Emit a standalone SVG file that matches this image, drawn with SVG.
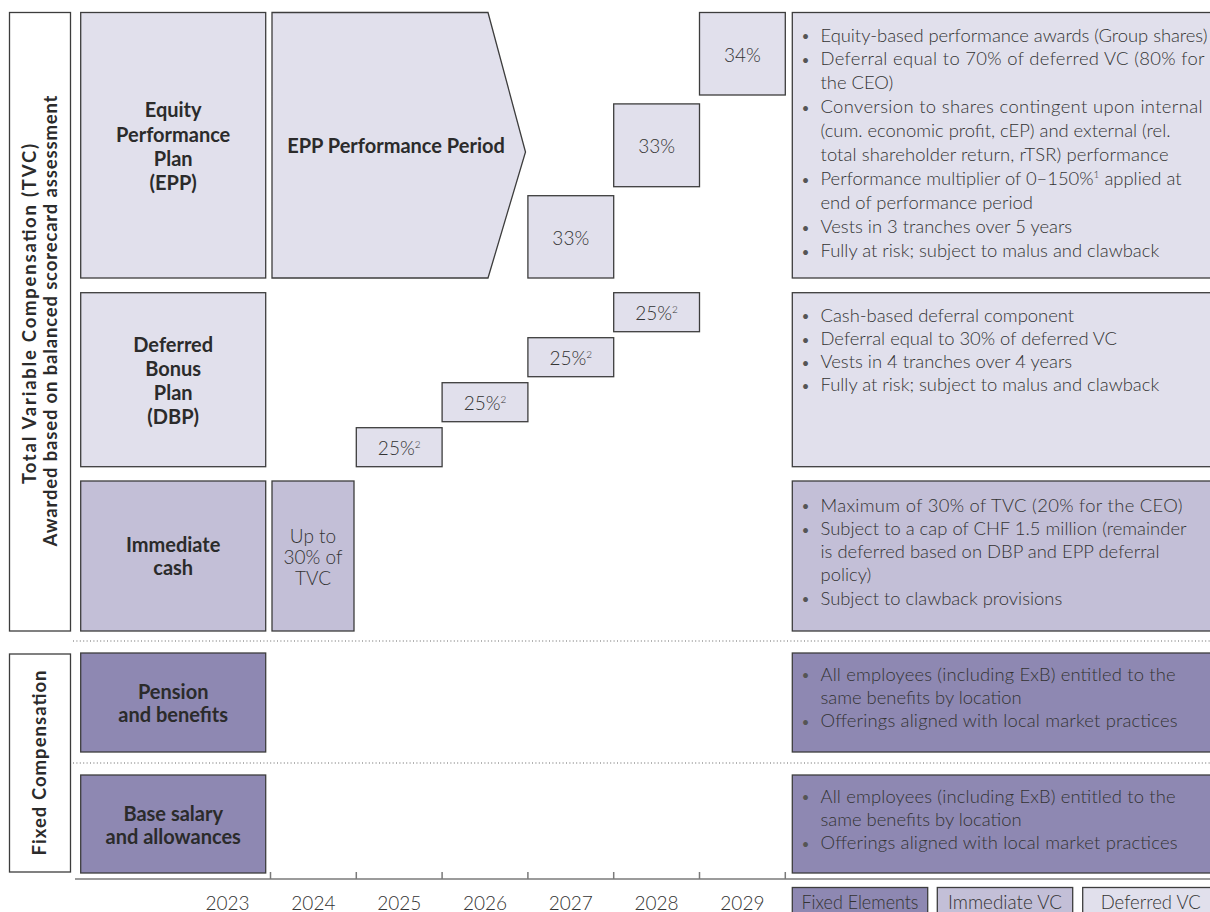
<svg xmlns="http://www.w3.org/2000/svg" width="1210" height="912" viewBox="0 0 1210 912">
<style>
.box{stroke:#3d3d3d;stroke-width:1.3}
.def{fill:#E1E0EC}
.imm{fill:#C3BFD7}
.fix{fill:#8E88B2}
.wht{fill:#ffffff}
.lbl{font-family:Lato,"Liberation Sans",sans-serif;font-weight:700;font-size:20px;fill:#2b2b2b;text-anchor:middle}
.side{font-family:Lato,"Liberation Sans",sans-serif;font-weight:700;font-size:18.5px;fill:#2b2b2b;text-anchor:middle}
.lt{font-family:Lato,"Liberation Sans",sans-serif;font-weight:300;font-size:19px;fill:#333333;text-anchor:middle}
.bul{font-family:Lato,"Liberation Sans",sans-serif;font-weight:300;font-size:18.4px;fill:#333333}
.dot{font-family:Lato,"Liberation Sans",sans-serif;font-weight:400;font-size:13px;fill:#555555;text-anchor:middle}
.sep{stroke:#666666;stroke-width:1.2;stroke-dasharray:1 2.4;fill:none}
.axis{stroke:#7a7a7a;stroke-width:1.5;fill:none}
</style>

<g id="connectors">
  <line class="sep" x1="73" y1="641" x2="1210" y2="641"/>
  <line class="sep" x1="73" y1="763" x2="1210" y2="763"/>
  <line class="axis" x1="75" y1="879" x2="1210" y2="879"/>
  <path class="axis" d="M270.5 872V879M356.3 872V879M442.1 872V879M527.9 872V879M613.7 872V879M699.5 872V879M785.3 872V879"/>
</g>

<g id="label-tvc">
  <rect class="box wht" x="9.5" y="12.5" width="61" height="618.5"/>
  <text class="side" transform="translate(35.5,314) rotate(-90)" textLength="340" lengthAdjust="spacing">Total Variable Compensation (TVC)</text>
  <text class="side" transform="translate(57,321) rotate(-90)" textLength="451" lengthAdjust="spacing">Awarded based on balanced scorecard assessment</text>
</g>

<g id="label-fixed">
  <rect class="box wht" x="9.5" y="654" width="61" height="218"/>
  <text class="side" transform="translate(46,763) rotate(-90)" textLength="185" lengthAdjust="spacing">Fixed Compensation</text>
</g>

<g id="epp">
  <rect class="box def" x="80.7" y="12.5" width="185" height="265.5"/>
  <text class="lbl" x="173.2" y="117">Equity</text>
  <text class="lbl" x="173.2" y="141.5">Performance</text>
  <text class="lbl" x="173.2" y="165.8">Plan</text>
  <text class="lbl" x="173.2" y="190">(EPP)</text>
</g>

<g id="epp-period">
  <polygon class="box def" points="272,12.5 488,12.5 525.5,152 488,278 272,278"/>
  <text class="lbl" x="396" y="153">EPP Performance Period</text>
</g>

<g id="epp-2027">
  <rect class="box def" x="527.9" y="195.7" width="85.8" height="82.3"/>
  <text class="lt" x="570.8" y="245">33%</text>
</g>
<g id="epp-2028">
  <rect class="box def" x="613.7" y="103.9" width="85.8" height="82.8"/>
  <text class="lt" x="656.6" y="152.5">33%</text>
</g>
<g id="epp-2029">
  <rect class="box def" x="699.5" y="12.5" width="85.8" height="82.5"/>
  <text class="lt" x="742.4" y="61.5">34%</text>
</g>

<g id="epp-desc">
  <rect class="box def" x="792.3" y="12.5" width="425" height="265.5"/>
  <g class="dot">
    <text x="805.5" y="41">•</text><text x="805.5" y="65">•</text><text x="805.5" y="113">•</text>
    <text x="805.5" y="185">•</text><text x="805.5" y="233">•</text><text x="805.5" y="257">•</text>
  </g>
  <text class="bul" x="820.5" y="41.5" textLength="387" lengthAdjust="spacing">Equity-based performance awards (Group shares)</text>
  <text class="bul" x="820.5" y="65.4" textLength="384" lengthAdjust="spacing">Deferral equal to 70% of deferred VC (80% for</text>
  <text class="bul" x="820.5" y="89.3">the CEO)</text>
  <text class="bul" x="820.5" y="113.2" textLength="382" lengthAdjust="spacing">Conversion to shares contingent upon internal</text>
  <text class="bul" x="820.5" y="137.1" textLength="350" lengthAdjust="spacing">(cum. economic profit, cEP) and external (rel.</text>
  <text class="bul" x="820.5" y="161" textLength="348" lengthAdjust="spacing">total shareholder return, rTSR) performance</text>
  <text class="bul" x="820.5" y="184.9">Performance multiplier of 0–150%<tspan font-size="10" dy="-7">1</tspan><tspan dy="7"> applied at</tspan></text>
  <text class="bul" x="820.5" y="208.8">end of performance period</text>
  <text class="bul" x="820.5" y="232.7">Vests in 3 tranches over 5 years</text>
  <text class="bul" x="820.5" y="256.6">Fully at risk; subject to malus and clawback</text>
</g>

<g id="dbp">
  <rect class="box def" x="80.7" y="292.7" width="185" height="174"/>
  <text class="lbl" x="173.2" y="351.7">Deferred</text>
  <text class="lbl" x="173.2" y="375.9">Bonus</text>
  <text class="lbl" x="173.2" y="400">Plan</text>
  <text class="lbl" x="173.2" y="424.2">(DBP)</text>
</g>

<g id="dbp-2025">
  <rect class="box def" x="356.3" y="427.7" width="85.8" height="39"/>
  <text class="lt" x="399.2" y="454.5" font-size="18">25%<tspan font-size="10" dy="-7">2</tspan></text>
</g>
<g id="dbp-2026">
  <rect class="box def" x="442.1" y="382.7" width="85.8" height="39"/>
  <text class="lt" x="485" y="409.5" font-size="18">25%<tspan font-size="10" dy="-7">2</tspan></text>
</g>
<g id="dbp-2027">
  <rect class="box def" x="527.9" y="337.7" width="85.8" height="39"/>
  <text class="lt" x="570.8" y="364.5" font-size="18">25%<tspan font-size="10" dy="-7">2</tspan></text>
</g>
<g id="dbp-2028">
  <rect class="box def" x="613.7" y="292.7" width="85.8" height="39"/>
  <text class="lt" x="656.6" y="319.5" font-size="18">25%<tspan font-size="10" dy="-7">2</tspan></text>
</g>

<g id="dbp-desc">
  <rect class="box def" x="792.3" y="292.7" width="425" height="174"/>
  <g class="dot">
    <text x="805.5" y="321.3">•</text><text x="805.5" y="344.5">•</text><text x="805.5" y="367.7">•</text><text x="805.5" y="390.9">•</text>
  </g>
  <text class="bul" x="820.5" y="321.8">Cash-based deferral component</text>
  <text class="bul" x="820.5" y="345">Deferral equal to 30% of deferred VC</text>
  <text class="bul" x="820.5" y="368.2">Vests in 4 tranches over 4 years</text>
  <text class="bul" x="820.5" y="391.4">Fully at risk; subject to malus and clawback</text>
</g>

<g id="cash">
  <rect class="box imm" x="80.7" y="481" width="185" height="150"/>
  <text class="lbl" x="173.2" y="551.7">Immediate</text>
  <text class="lbl" x="173.2" y="575">cash</text>
</g>

<g id="cash-2024">
  <rect class="box imm" x="272" y="481" width="82" height="150"/>
  <text class="lt" x="313" y="542.5" font-size="17.5">Up to</text>
  <text class="lt" x="313" y="563.5" font-size="17.5">30% of</text>
  <text class="lt" x="313" y="584.5" font-size="17.5">TVC</text>
</g>

<g id="cash-desc">
  <rect class="box imm" x="792.3" y="481" width="425" height="150"/>
  <g class="dot">
    <text x="805.5" y="511.3">•</text><text x="805.5" y="534.5">•</text><text x="805.5" y="604.1">•</text>
  </g>
  <text class="bul" x="820.5" y="511.8" textLength="362" lengthAdjust="spacing">Maximum of 30% of TVC (20% for the CEO)</text>
  <text class="bul" x="820.5" y="535" textLength="366" lengthAdjust="spacing">Subject to a cap of CHF 1.5 million (remainder</text>
  <text class="bul" x="820.5" y="558.2" textLength="339" lengthAdjust="spacing">is deferred based on DBP and EPP deferral</text>
  <text class="bul" x="820.5" y="581.4">policy)</text>
  <text class="bul" x="820.5" y="604.6">Subject to clawback provisions</text>
</g>

<g id="pension">
  <rect class="box fix" x="80.7" y="653" width="185" height="99"/>
  <text class="lbl" x="173.2" y="699">Pension</text>
  <text class="lbl" x="173.2" y="722.3">and benefits</text>
</g>

<g id="pension-desc">
  <rect class="box fix" x="792.3" y="653" width="425" height="99"/>
  <g class="dot">
    <text x="805.5" y="680">•</text><text x="805.5" y="726.6">•</text>
  </g>
  <text class="bul" x="820.5" y="680.5" textLength="355" lengthAdjust="spacing">All employees (including ExB) entitled to the</text>
  <text class="bul" x="820.5" y="703.8">same benefits by location</text>
  <text class="bul" x="820.5" y="727.1" textLength="357" lengthAdjust="spacing">Offerings aligned with local market practices</text>
</g>

<g id="base">
  <rect class="box fix" x="80.7" y="775" width="185" height="98"/>
  <text class="lbl" x="173.2" y="821">Base salary</text>
  <text class="lbl" x="173.2" y="844">and allowances</text>
</g>

<g id="base-desc">
  <rect class="box fix" x="792.3" y="775" width="425" height="98"/>
  <g class="dot">
    <text x="805.5" y="802.3">•</text><text x="805.5" y="848.9">•</text>
  </g>
  <text class="bul" x="820.5" y="802.8" textLength="355" lengthAdjust="spacing">All employees (including ExB) entitled to the</text>
  <text class="bul" x="820.5" y="826.1">same benefits by location</text>
  <text class="bul" x="820.5" y="849.4" textLength="357" lengthAdjust="spacing">Offerings aligned with local market practices</text>
</g>

<g id="years">
  <text class="lt" x="227.6" y="909.5">2023</text>
  <text class="lt" x="313.4" y="909.5">2024</text>
  <text class="lt" x="399.2" y="909.5">2025</text>
  <text class="lt" x="485" y="909.5">2026</text>
  <text class="lt" x="570.8" y="909.5">2027</text>
  <text class="lt" x="656.6" y="909.5">2028</text>
  <text class="lt" x="742.4" y="909.5">2029</text>
</g>

<g id="legend">
  <g id="legend-fixed">
    <rect class="box fix" x="792.3" y="887.5" width="135.4" height="30"/>
    <text class="lt" x="860" y="909.3" textLength="117" lengthAdjust="spacingAndGlyphs">Fixed Elements</text>
  </g>
  <g id="legend-immediate">
    <rect class="box imm" x="937.3" y="887.5" width="135.4" height="30"/>
    <text class="lt" x="1005" y="909.3" textLength="114" lengthAdjust="spacingAndGlyphs">Immediate VC</text>
  </g>
  <g id="legend-deferred">
    <rect class="box def" x="1082.7" y="887.5" width="135.4" height="30"/>
    <text class="lt" x="1150.7" y="909.3" textLength="100" lengthAdjust="spacingAndGlyphs">Deferred VC</text>
  </g>
</g>
</svg>
